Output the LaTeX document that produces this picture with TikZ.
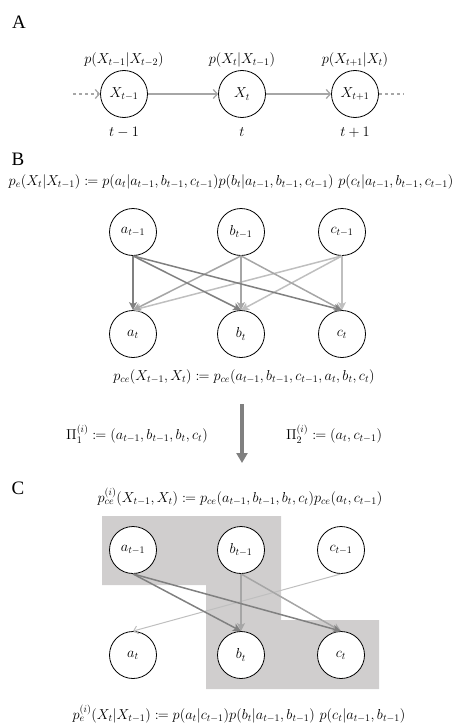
\documentclass[tikz,border=0pt]{standalone}
\usepackage{amsmath,amssymb,mathtools}
\usepackage{fontspec}
\usepackage{xcolor}
\usepackage{tikz}
\usetikzlibrary{arrows.meta,positioning}
\newfontfamily\panelfont{Liberation Serif}
\definecolor{arDark}{HTML}{808080}
\definecolor{arMid}{HTML}{A6A6A6}
\definecolor{arLight}{HTML}{BFBFBF}
\definecolor{regionbg}{HTML}{D0CECE}

\begin{document}
\begin{tikzpicture}[x=1pt,y=-1pt,font=\fontsize{14.7}{17}\selectfont,
  varnode/.style={draw,circle,fill=white,minimum size=47pt,inner sep=0pt,line width=0.8pt},
  panel/.style={font=\panelfont\fontsize{19}{21}\selectfont},
  chainar/.style={-{Straight Barb[length=4pt,width=9pt]},arMid,line width=1.3pt},
  darkar/.style={-{Stealth[length=8pt,width=8pt,inset=2pt]},arDark,line width=1.5pt},
  midar/.style={-{Stealth[length=8pt,width=8pt,inset=2pt]},arMid,line width=1.5pt},
  lightar/.style={-{Stealth[length=8pt,width=8pt,inset=2pt]},arLight,line width=1.5pt},
  thinar/.style={-{Straight Barb[length=4pt,width=8pt]},arLight,line width=1pt},
  bigar/.style={-{Triangle[length=10pt,width=11pt]},arDark,line width=3.5pt}]
\useasboundingbox (0,0) rectangle (464,725);
% A
\node[panel](labA) at (19,22){A};
\node[varnode](x0) at (124,94){$X_{t-1}$};
\node[varnode](x1) at (242,94){$X_t$};
\node[varnode](x2) at (355,94){$X_{t+1}$};
\node(px0) at (124,60){$p(X_{t-1}|X_{t-2})$};
\node(px1) at (242,60){$p(X_t|X_{t-1})$};
\node(px2) at (355,60){$p(X_{t+1}|X_t)$};
\node(tx0) at (124,132){$t-1$};
\node(tx1) at (242,132){$t$};
\node(tx2) at (355,132){$t+1$};
\coordinate (inL) at (73,94);
\coordinate (outR) at (404,94);
\draw[chainar,dashed] (inL)--(x0);
\draw[chainar] (x0)--(x1);
\draw[chainar] (x1)--(x2);
\draw[arMid,line width=1.3pt,dashed] (x2)--(outR);
% B
\node[panel](labB) at (18,159){B};
\node(peB) at (231,182){$p_e(X_t|X_{t-1})\coloneqq p(a_t|a_{t-1},b_{t-1},c_{t-1})p(b_t|a_{t-1},b_{t-1},c_{t-1})\ p(c_t|a_{t-1},b_{t-1},c_{t-1})$};
\node[varnode](a1) at (133,232){$a_{t-1}$};
\node[varnode](b1) at (241,232){$b_{t-1}$};
\node[varnode](c1) at (342,232){$c_{t-1}$};
\node[varnode](a0) at (133,334){$a_t$};
\node[varnode](b0) at (241,334){$b_t$};
\node[varnode](c0) at (342,334){$c_t$};
\foreach \s/\st in {c1/lightar,b1/midar,a1/darkar}
  \foreach \e in {a0,b0,c0}
    \draw[\st] (\s.south)--(\e.north);
\node(pceB) at (244,377){$p_{ce}(X_{t-1},X_t)\coloneqq p_{ce}(a_{t-1},b_{t-1},c_{t-1},a_t,b_t,c_t)$};
\coordinate (mapTop) at (242,404);
\coordinate (mapBot) at (242,463);
\draw[bigar] (mapTop)--(mapBot);
\node(pi1) at (137,434){$\Pi_1^{(i)}\coloneqq(a_{t-1},b_{t-1},b_t,c_t)$};
\node(pi2) at (334,434){$\Pi_2^{(i)}\coloneqq(a_t,c_{t-1})$};
% C
\node[panel](labC) at (18,488){C};
\node(pceC) at (240,497){$p_{ce}^{(i)}(X_{t-1},X_t)\coloneqq p_{ce}(a_{t-1},b_{t-1},b_t,c_t)p_{ce}(a_t,c_{t-1})$};
\fill[regionbg] (102,516)--(281,516)--(281,620)--(379,620)--(379,689)--(206,689)--(206,585)--(102,585)--cycle;
\node[varnode](ca1) at (133,550){$a_{t-1}$};
\node[varnode](cb1) at (241,550){$b_{t-1}$};
\node[varnode](cc1) at (341,550){$c_{t-1}$};
\node[varnode](ca0) at (133,655){$a_t$};
\node[varnode](cb0) at (241,655){$b_t$};
\node[varnode](cc0) at (341,655){$c_t$};
\draw[thinar] (cc1.south)--(ca0.north);
\draw[midar] (cb1.south)--(cb0.north);
\draw[midar] (cb1.south)--(cc0.north);
\draw[darkar] (ca1.south)--(cb0.north);
\draw[darkar] (ca1.south)--(cc0.north);
\node(peC) at (239,714){$p_e^{(i)}(X_t|X_{t-1})\coloneqq p(a_t|c_{t-1})p(b_t|a_{t-1},b_{t-1})\ p(c_t|a_{t-1},b_{t-1})$};
\end{tikzpicture}
\end{document}
